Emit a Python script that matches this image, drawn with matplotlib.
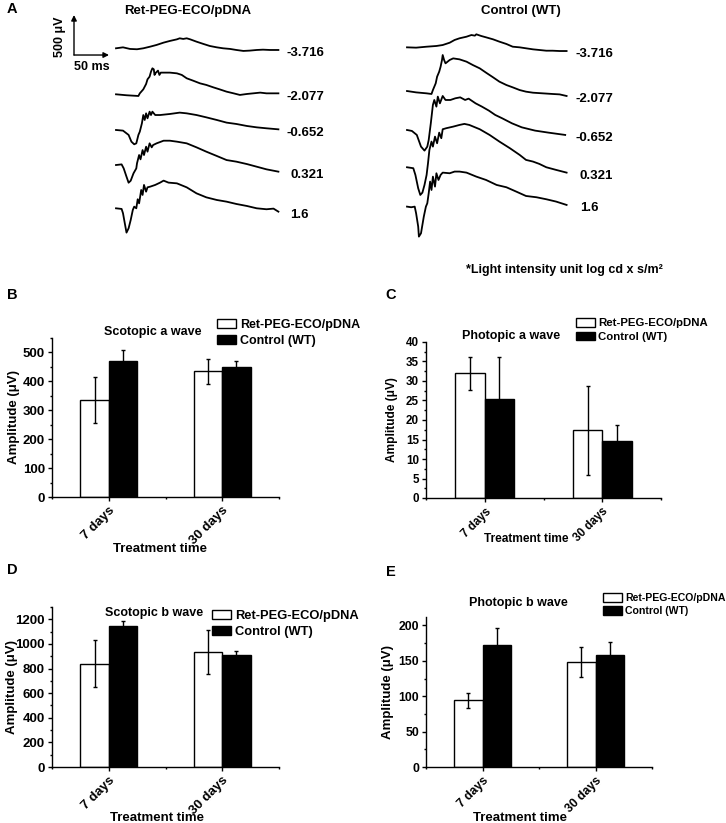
import numpy as np
import matplotlib
matplotlib.use("Agg")
import matplotlib.pyplot as plt
from matplotlib.ticker import MultipleLocator, FixedLocator

plt.rcParams["font.family"] = ["Liberation Sans", "DejaVu Sans"]
plt.rcParams["font.weight"] = "bold"
plt.rcParams["axes.labelweight"] = "bold"
plt.rcParams["font.size"] = 9

# ---- panel A: ERG traces (time in ms, amplitude in uV) ----
intensities = ["-3.716", "-2.077", "-0.652", "0.321", "1.6"]

ret_t = [
    [0, 10, 20, 30, 39, 49, 58, 68, 77, 87, 91, 96, 101, 106, 115, 125, 134, 144, 153, 163, 172, 182, 191, 201, 210, 220, 232],
    [0, 15, 32, 34, 39, 43, 45, 48, 50, 52, 54, 55, 57, 60, 62, 64, 67, 77, 87, 94, 101, 110, 120, 129, 139, 148, 158, 168, 177, 187, 196, 206, 215, 232],
    [0, 10, 18, 22, 26, 29, 32, 34, 37, 39, 41, 43, 45, 48, 50, 52, 56, 63, 77, 91, 101, 115, 129, 144, 158, 172, 187, 201, 215, 232],
    [0, 8, 11, 15, 18, 21, 25, 29, 30, 33, 35, 38, 40, 43, 45, 48, 51, 53, 58, 68, 77, 87, 101, 115, 129, 144, 158, 172, 187, 201, 215, 232],
    [0, 8, 10, 13, 15, 18, 21, 24, 26, 29, 31, 33, 36, 38, 40, 43, 45, 49, 56, 63, 68, 75, 87, 101, 115, 129, 144, 158, 172, 187, 201, 215, 225, 232],
]
ret_v = [
    [0, 12, -8, -12, 0, 21, 42, 71, 92, 112, 125, 117, 125, 112, 83, 54, 29, 12, 0, -8, -21, -33, -29, -21, -17, -21, -21],
    [0, -12, -21, 12, 62, 129, 187, 221, 283, 325, 312, 242, 271, 296, 242, 271, 271, 271, 262, 242, 200, 171, 137, 117, 87, 62, 33, 12, -8, 4, 12, 21, 12, 12],
    [0, -8, -62, -146, -179, -167, -62, -21, 83, 187, 125, 208, 146, 229, 187, 229, 187, 187, 200, 217, 208, 187, 158, 125, 92, 75, 50, 33, 21, 8],
    [0, 8, -42, -146, -221, -196, -104, -42, 21, 125, 71, 187, 125, 229, 167, 271, 221, 250, 271, 304, 304, 292, 271, 221, 167, 113, 62, 42, 12, -21, -54, -83],
    [0, -8, -62, -208, -304, -250, -146, -21, 21, 0, 113, 62, 229, 167, 292, 208, 262, 271, 292, 321, 346, 321, 312, 262, 187, 137, 104, 83, 54, 29, 0, -12, -4, -42],
]

wt_t = [
    [0, 13, 28, 42, 51, 61, 68, 75, 85, 92, 97, 99, 106, 113, 123, 132, 142, 151, 161, 170, 180, 189, 199, 208, 218, 228],
    [0, 13, 28, 35, 37, 41, 43, 46, 48, 50, 51, 53, 55, 58, 61, 66, 75, 85, 94, 104, 113, 123, 132, 142, 151, 161, 170, 180, 194, 208, 218, 228],
    [0, 7, 14, 20, 25, 29, 31, 34, 37, 39, 42, 44, 47, 51, 55, 62, 69, 76, 83, 88, 98, 107, 117, 126, 136, 150, 164, 183, 202, 226],
    [0, 9, 12, 16, 19, 22, 25, 28, 30, 32, 35, 37, 40, 43, 46, 49, 51, 56, 66, 75, 82, 89, 104, 118, 132, 147, 161, 170, 180, 189, 199, 213, 228],
    [0, 6, 11, 13, 16, 17, 20, 22, 24, 27, 29, 31, 33, 35, 37, 40, 42, 45, 48, 51, 61, 68, 75, 85, 99, 113, 128, 142, 156, 170, 185, 199, 213, 228],
]
wt_v = [
    [0, -4, 8, 17, 29, 58, 92, 113, 133, 154, 146, 163, 142, 125, 100, 71, 42, 8, 0, -12, -25, -33, -42, -42, -46, -46],
    [0, -17, -29, -37, 12, 96, 179, 242, 304, 388, 450, 388, 346, 367, 388, 408, 396, 367, 325, 283, 229, 171, 117, 75, 46, 12, -8, -21, -29, -37, -42, -62],
    [0, -12, -62, -208, -258, -208, -125, 83, 313, 375, 292, 417, 333, 425, 375, 375, 396, 408, 375, 392, 333, 292, 242, 188, 146, 83, 33, -8, -33, -62],
    [0, -12, -96, -263, -346, -317, -221, -96, 50, 217, 321, 258, 383, 300, 433, 363, 475, 488, 508, 529, 542, 529, 475, 404, 321, 238, 154, 92, 71, 42, 0, -33, -67],
    [0, -8, 0, -83, -250, -375, -333, -229, -125, 0, 42, 167, 313, 208, 375, 250, 417, 333, 396, 425, 417, 438, 438, 425, 375, 333, 271, 242, 188, 133, 117, 92, 63, 21],
]

# ---- panels B-E: mean amplitude (uV) and error ----
groups = ["7 days", "30 days"]
series_names = ["Ret-PEG-ECO/pDNA", "Control (WT)"]

scot_a_ret, scot_a_ret_err = [336, 435], [80, 44]
scot_a_wt, scot_a_wt_err = [472, 448], [35, 24]
phot_a_ret, phot_a_ret_err = [32.0, 17.4], [4.2, 11.4]
phot_a_wt, phot_a_wt_err = [25.4, 14.7], [10.8, 4.0]
scot_b_ret, scot_b_ret_err = [840, 934], [193, 176]
scot_b_wt, scot_b_wt_err = [1142, 914], [46, 27]
phot_b_ret, phot_b_ret_err = [94, 148], [10.6, 21]
phot_b_wt, phot_b_wt_err = [173, 158], [23.5, 18]

W, H = 726, 823
fig = plt.figure(figsize=(W / 100, H / 100), dpi=100)

# panel A layout (pixels)
px_ms, px_uv = 0.7, 0.08
x_start, y_top_base, a_height = 116, 48.3, 250
axA = fig.add_axes([0, 1 - a_height / H, 1, a_height / H])
axA.set_xlim(-x_start / px_ms, (W - x_start) / px_ms)
axA.set_ylim(-(a_height - y_top_base) / px_uv, y_top_base / px_uv)
axA.axis("off")

groups_A = [
    (0, [0, -575, -1021, -1459, -2000], ret_t, ret_v, 243),
    ((407 - x_start) / px_ms, [12, -534, -1021, -1487, -1979], wt_t, wt_v, 241),
]
for shift, offs, tt, vv, lab_t in groups_A:
    for t, v, off, lab in zip(tt, vv, offs, intensities):
        t = np.array(t) + shift
        v = np.array(v) + off
        axA.plot(t, v, color="black", lw=1.3, solid_joinstyle="round")
        dx = 0 if lab.startswith("-") else 6
        axA.text(shift + lab_t + dx, v[-1] - 40, lab, ha="left", va="center", fontsize=9.5)

axA.text(103, 470, "Ret-PEG-ECO/pDNA", ha="center", va="center", fontsize=9.5)
axA.text(groups_A[1][0] + 163, 470, "Control (WT)", ha="center", va="center", fontsize=9.5)

# scale bar
sx, sy = -60, -84
arw = dict(arrowstyle="-|>", lw=1.0, color="black", mutation_scale=8, shrinkA=0, shrinkB=0)
axA.annotate("", xy=(sx, sy + 500), xytext=(sx, sy), arrowprops=arw)
axA.annotate("", xy=(sx + 50, sy), xytext=(sx, sy), arrowprops=arw)
axA.text(sx - 20, sy + 230, "500 \u03bcV", rotation=90, ha="center", va="center", fontsize=9)
axA.text(sx + 26, sy - 150, "50 ms", ha="center", va="center", fontsize=9)

fig.text(466 / W, 1 - 270 / H, "*Light intensity unit log cd x s/m\u00b2", ha="left", va="center", fontsize=9)


def bar_panel(rect, ret, ret_err, wt, wt_err, ymax, major, title, title_xy, leg_xy, xlab_xy, ylab_x,
              tick_fs=9.5, lab_fs=9.5, leg_fs=9):
    ax = fig.add_axes(rect)
    x = np.arange(1, len(groups) + 1)
    w = 0.25
    ekw = dict(elinewidth=1, capthick=1, ecolor="black")
    ax.bar(x - w / 2, ret, w, yerr=ret_err, color="white", edgecolor="black", lw=1,
           capsize=1.6, error_kw=ekw, label=series_names[0])
    ax.bar(x + w / 2, wt, w, yerr=wt_err, color="black", edgecolor="black", lw=1,
           capsize=1.6, error_kw=ekw, label=series_names[1])
    ax.set_xlim(0.5, 2.5)
    ax.set_ylim(0, ymax)
    ax.set_xticks(x)
    ax.set_xticklabels(groups, rotation=45, ha="right", va="top", rotation_mode="anchor")
    ax.xaxis.set_minor_locator(FixedLocator([0.5, 1.5, 2.5]))
    ax.yaxis.set_major_locator(MultipleLocator(major))
    ax.yaxis.set_minor_locator(MultipleLocator(major / 2))
    ax.tick_params(which="major", direction="out", length=3, width=1, labelsize=tick_fs, pad=2)
    ax.tick_params(axis="x", which="major", pad=2.5)
    ax.tick_params(which="minor", direction="out", length=1.6, width=1)
    for s in ["top", "right"]:
        ax.spines[s].set_visible(False)
    for s in ["left", "bottom"]:
        ax.spines[s].set_linewidth(1)
    ax.set_xlabel("Treatment time", fontsize=lab_fs, va="top")
    ax.xaxis.set_label_coords(*xlab_xy)
    ax.set_ylabel("Amplitude (\u03bcV)", fontsize=lab_fs)
    ax.yaxis.set_label_coords(ylab_x, 0.5)
    ax.text(title_xy[0], title_xy[1], title, transform=ax.transAxes, ha="center", va="center", fontsize=9)
    # patch size kept about 19 x 9 px regardless of legend font size
    ax.legend(loc="upper left", bbox_to_anchor=leg_xy, frameon=False, fontsize=leg_fs,
              handlelength=13.7 / leg_fs, handleheight=6.5 / leg_fs, handletextpad=0.3,
              borderpad=0, borderaxespad=0, labelspacing=0.3)
    return ax


def rect(x0, x1, ytop, ybot):
    return [x0 / W, 1 - ybot / H, (x1 - x0) / W, (ybot - ytop) / H]


bar_panel(rect(52, 279, 338, 497), scot_a_ret, scot_a_ret_err, scot_a_wt, scot_a_wt_err,
          550, 100, "Scotopic a wave", (0.445, 1.038), (0.727, 1.12), (0.476, -0.29), -0.14)
bar_panel(rect(426, 661, 342, 498), phot_a_ret, phot_a_ret_err, phot_a_wt, phot_a_wt_err,
          40, 5, "Photopic a wave", (0.362, 1.038), (0.638, 1.154), (0.426, -0.225), -0.12,
          tick_fs=8.4, lab_fs=8.6, leg_fs=8.2)
bar_panel(rect(52, 279, 607, 767), scot_b_ret, scot_b_ret_err, scot_b_wt, scot_b_wt_err,
          1300, 200, "Scotopic b wave", (0.449, 0.9625), (0.705, 0.98), (0.463, -0.28), -0.15,
          leg_fs=9.3)
bar_panel(rect(426, 652, 617, 767), phot_b_ret, phot_b_ret_err, phot_b_wt, phot_b_wt_err,
          212, 50, "Photopic b wave", (0.407, 1.093), (0.783, 1.16), (0.416, -0.3), -0.142,
          tick_fs=8.8, leg_fs=7.6)

for lab, xp, yp in [("A", 7, 9), ("B", 7, 295), ("C", 385, 295), ("D", 7, 570), ("E", 386, 572)]:
    fig.text(xp / W, 1 - yp / H, lab, ha="left", va="center", fontsize=10.5)

fig.savefig("out.png", dpi=100)
